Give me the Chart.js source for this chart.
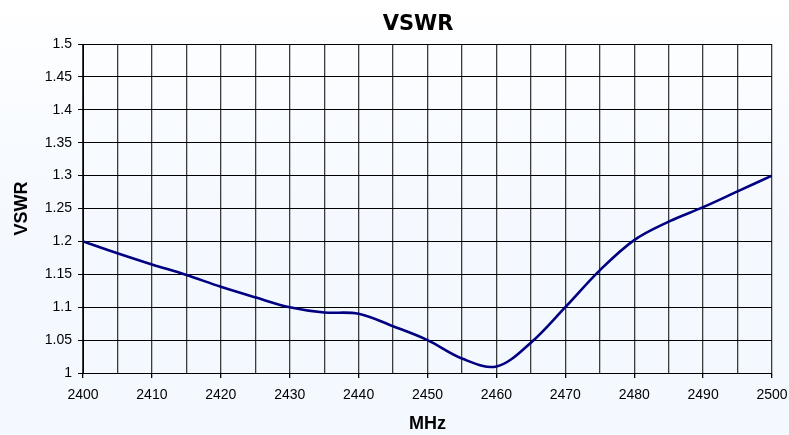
<!DOCTYPE html>
<html>
<head>
<meta charset="utf-8">
<script src="https://cdn.jsdelivr.net/npm/chart.js@4/dist/chart.umd.min.js"></script>
<style>
  html, body { margin: 0; padding: 0; }
  body {
    width: 789px; height: 435px; overflow: hidden;
    background: linear-gradient(to bottom, #ffffff 0%, #f8fbff 30%, #f4f8ff 60%, #f4f8ff 100%);
  }
  #wrap { position: relative; width: 789px; height: 435px; }
</style>
</head>
<body>
<div id="wrap"><canvas id="c" width="789" height="435"></canvas></div>
<script>
const TITLE = "VSWR";
const X_TITLE = "MHz";
const Y_TITLE = "VSWR";
const frequencies = [2400, 2405, 2410, 2415, 2420, 2425, 2430, 2435, 2440, 2445, 2450,
                     2455, 2460, 2465, 2470, 2475, 2480, 2485, 2490, 2495, 2500];
const vswr = [1.200, 1.182, 1.165, 1.149, 1.131, 1.115, 1.100, 1.092, 1.090, 1.071, 1.050,
              1.022, 1.010, 1.046, 1.100, 1.156, 1.202, 1.230, 1.252, 1.276, 1.300];
const xMin = 2400, xMax = 2500, xStep = 5, xLabelStep = 10;
const yMin = 1, yMax = 1.5, yStep = 0.05;

const points = frequencies.map((f, i) => ({ x: f, y: vswr[i] }));

const titlePlugin = {
  id: 'customTitle',
  afterDraw(chart) {
    const ctx = chart.ctx;
    ctx.save();
    ctx.font = 'bold 21px "DejaVu Sans"';
    ctx.fillStyle = '#000';
    ctx.textAlign = 'center';
    ctx.textBaseline = 'middle';
    ctx.fillText(TITLE, 418, 25);
    ctx.restore();
  }
};

Chart.defaults.color = '#000';
Chart.defaults.font.family = '"Liberation Sans", Arial, sans-serif';

new Chart(document.getElementById('c'), {
  type: 'line',
  data: {
    datasets: [{
      data: points,
      borderColor: '#000080',
      borderWidth: 2.6,
      pointRadius: 0,
      fill: false,
      tension: 0.35
    }]
  },
  options: {
    responsive: false,
    animation: false,
    layout: { padding: { left: 0, right: 17, top: 44, bottom: 0 } },
    plugins: { legend: { display: false }, tooltip: { enabled: false } },
    scales: {
      x: {
        type: 'linear',
        min: xMin, max: xMax,
        afterFit: (s) => { s.height = 62; s.paddingLeft = 0; s.paddingRight = 0; },
        border: { display: true, color: '#000', width: 1 },
        grid: {
          color: '#3c3c3c',
          lineWidth: 1.3,
          tickLength: 5,
          tickColor: (ctx) => (ctx.tick && ctx.tick.value % xLabelStep === 0) ? '#000' : 'rgba(0,0,0,0)'
        },
        ticks: {
          stepSize: xStep,
          autoSkip: false,
          maxRotation: 0,
          padding: 9,
          font: { size: 14 },
          callback: (v) => (v % xLabelStep === 0 ? String(v) : '')
        },
        title: {
          display: true,
          text: X_TITLE,
          font: { size: 18, weight: 'bold' },
          padding: { top: 0, bottom: 0 }
        }
      },
      y: {
        min: yMin, max: yMax,
        afterFit: (s) => { s.width = 83; s.paddingTop = 0; s.paddingBottom = 0; },
        border: { display: true, color: '#000', width: 1 },
        grid: { color: '#000', lineWidth: 1, tickLength: 5, tickColor: '#000' },
        ticks: {
          stepSize: yStep,
          padding: 6,
          font: { size: 14 },
          callback: (v) => String(+v.toFixed(2))
        },
        title: {
          display: true,
          text: Y_TITLE,
          font: { size: 18, weight: 'bold' },
          padding: { top: 11, bottom: 0 }
        }
      }
    }
  },
  plugins: [titlePlugin]
});
</script>
</body>
</html>
